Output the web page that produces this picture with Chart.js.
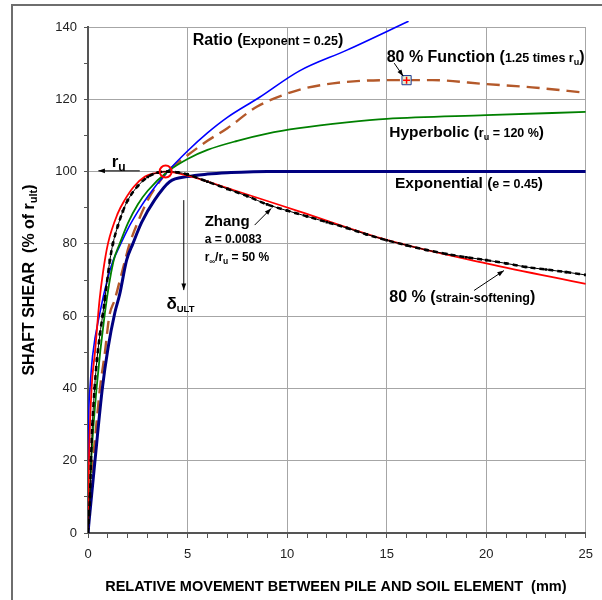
<!DOCTYPE html>
<html>
<head>
<meta charset="utf-8">
<script src="https://cdn.jsdelivr.net/npm/chart.js@4.4.1/dist/chart.umd.min.js"></script>
<style>
    html, body { margin: 0; padding: 0; background: #fff; }
    #wrap { position: relative; width: 602px; height: 600px; }
</style>
</head>
<body>
<div id="wrap"><canvas id="shearChart" width="602" height="600"></canvas></div>
<script>
// values (mm, % of r_ult)
const ratioX = [0, 0.02, 0.1, 0.23, 0.6, 1.0, 1.27, 1.5, 2.0, 2.5, 3.0, 4.0, 5.0, 6.0, 7.0, 8.6, 10.6, 13.0, 16.1];
const ratioY = [0, 26, 40, 49, 61, 70.7, 75.5, 78.3, 84.1, 88.9, 93.1, 100, 105.7, 110.7, 115, 120.5, 127.8, 133.6, 141.6];

const functionX = [0, 0.12, 0.25, 0.42, 0.6, 0.85, 1.07, 1.34, 1.7, 2.09, 2.5, 3.0, 3.5, 4.0, 5.0, 6.0, 7.0, 8.5, 10.6, 12.3, 15.0, 17.3, 20.0, 22.3, 25.0];
const functionY = [0, 10, 20, 30, 40, 50, 60, 64.5, 72, 80, 86, 92.1, 96.5, 100, 104.5, 108.5, 112, 118, 122.6, 124.4, 125.3, 125.3, 124.2, 123.3, 121.8];

const hyperX = [0, 0.16, 0.43, 0.85, 1.27, 1.59, 2.0, 2.5, 3.0, 4.0, 5.0, 6.0, 7.5, 9.0, 10.6, 13.0, 15.0, 20.0, 25.0];
const hyperY = [0, 20, 40, 61, 75, 80, 85.7, 90.9, 94.7, 100, 103.5, 106, 108.5, 110.5, 112, 113.6, 114.6, 115.6, 116.5];

const expoX = [0, 0.05, 0.35, 0.72, 1.0, 1.35, 1.59, 1.94, 2.25, 2.7, 3.34, 4.1, 5.0, 6.0, 7.0, 8.0, 9.0, 10.0, 25.0];
const expoY = [0, 3, 20, 40, 51, 61, 66, 75.5, 80, 86, 92.1, 97.2, 98.6, 99.3, 99.7, 99.9, 100, 100, 100];

const softX = [0, 0.05, 0.18, 0.35, 0.58, 0.75, 1.0, 1.5, 1.84, 2.3, 2.86, 3.4, 3.9, 5.0, 7.3, 10.6, 15.0, 20.0, 25.0];
const softY = [0, 20, 40, 50, 64.5, 72, 80, 88.5, 92.1, 95.8, 98.6, 99.6, 100, 98.9, 94.9, 89, 81.1, 74.6, 68.9];

const zhangX = [0, 0.05, 0.1, 0.15, 0.22, 0.33, 0.45, 0.6, 0.73, 0.84, 1.1, 1.25, 1.5, 1.75, 2.0, 2.5, 3.0, 3.5, 4.0, 4.5,
    5, 6, 7, 8, 9, 10, 11, 12, 13, 14, 15, 16, 17, 18, 19, 20, 21, 22, 23, 24, 25];
const zhangY = [0, 5, 10, 20, 30, 40, 48, 55, 60, 64.5, 75.5, 80, 85, 89, 92.1, 96, 98.5, 99.7, 100, 99.8,
    99.2, 97.2, 95.2, 93.2, 90.9, 89.2, 87.6, 86, 84.4, 82.6, 81, 79.6, 78.3, 77.2, 76.3, 75.5, 74.6, 73.6, 72.9, 72.2, 71.4];

const peakPoint = [3.9, 100];
const functionMark = [16, 125.3];

const xTicks = [0, 5, 10, 15, 20, 25];
const yTicks = [0, 20, 40, 60, 80, 100, 120, 140];

const FONT = '"Liberation Sans", Arial, sans-serif';

function pts(xs, ys) {
    return xs.map((x, i) => ({ x: x, y: ys[i] }));
}

function drawRuns(ctx, x, y, runs) {
    runs.forEach(r => {
        ctx.font = 'bold ' + r[1] + 'px ' + FONT;
        ctx.fillText(r[0], x, y + (r[2] || 0));
        x += ctx.measureText(r[0]).width;
    });
    return x;
}

function runsWidth(ctx, runs) {
    let w = 0;
    runs.forEach(r => {
        ctx.font = 'bold ' + r[1] + 'px ' + FONT;
        w += ctx.measureText(r[0]).width;
    });
    return w;
}

function arrow(ctx, x1, y1, x2, y2) {
    const a = Math.atan2(y2 - y1, x2 - x1);
    ctx.beginPath();
    ctx.moveTo(x1, y1);
    ctx.lineTo(x2, y2);
    ctx.stroke();
    ctx.beginPath();
    ctx.moveTo(x2, y2);
    ctx.lineTo(x2 - 7 * Math.cos(a - 0.35), y2 - 7 * Math.sin(a - 0.35));
    ctx.lineTo(x2 - 7 * Math.cos(a + 0.35), y2 - 7 * Math.sin(a + 0.35));
    ctx.closePath();
    ctx.fill();
}

// labels anchored in data units
const notes = [
    { x: 5.26, y: 135.0, runs: [['Ratio ', 16], ['(', 16], ['Exponent = 0.25', 12.5], [')', 16]] },
    { x: 15.0, y: 130.2, runs: [['80 % Function ', 16], ['(', 16], ['1.25 times r', 12.5], ['u', 9, 3], [')', 16]] },
    { x: 15.13, y: 109.5, runs: [['Hyperbolic ', 15.5], ['(', 15.5], ['r', 12.5], ['u', 9, 3], [' = 120 %', 12.5], [')', 15.5]] },
    { x: 15.42, y: 95.4, runs: [['Exponential ', 15.5], ['(', 15.5], ['e = 0.45', 12.5], [')', 15.5]] },
    { x: 15.13, y: 64.0, runs: [['80 % ', 16], ['(', 16], ['strain-softening', 12.5], [')', 16]] },
    { x: 5.86, y: 84.9, runs: [['Zhang', 15]] },
    { x: 5.86, y: 80.2, runs: [['a = 0.0083', 12]] },
    { x: 5.86, y: 75.3, runs: [['r', 12], ['\u221E', 8, 3], ['/r', 12], ['u', 8.5, 3], [' = 50 %', 12]] },
    { x: 3.94, y: 61.9, runs: [['\u03B4', 17], ['ULT', 9.5, 3]] },
    { x: 1.19, y: 101.4, runs: [['r', 17], ['u', 12, 4]] }
];

const arrows = [
    [15.38, 130.0, 15.83, 126.4],
    [19.39, 67.1, 20.89, 72.6],
    [8.37, 85.2, 9.2, 89.8],
    [4.81, 92.1, 4.81, 67.2],
    [2.6, 100.2, 0.52, 100.2]
];

const notesPlugin = {
    id: 'notes',
    beforeDraw(chart) {
        const ctx = chart.ctx;
        ctx.save();
        ctx.strokeStyle = '#6e6e6e';
        ctx.lineWidth = 2;
        ctx.beginPath();
        ctx.moveTo(12, 600);
        ctx.lineTo(12, 5);
        ctx.lineTo(602, 5);
        ctx.stroke();
        ctx.restore();
    },
    afterDraw(chart) {
        const ctx = chart.ctx;
        const sx = chart.scales.x, sy = chart.scales.y;
        ctx.save();
        ctx.fillStyle = '#000';
        ctx.strokeStyle = '#000';
        ctx.lineWidth = 1;
        ctx.textBaseline = 'alphabetic';
        ctx.textAlign = 'left';
        notes.forEach(n => drawRuns(ctx, sx.getPixelForValue(n.x), sy.getPixelForValue(n.y), n.runs));
        arrows.forEach(a => arrow(ctx, sx.getPixelForValue(a[0]), sy.getPixelForValue(a[1]),
            sx.getPixelForValue(a[2]), sy.getPixelForValue(a[3])));

        // axis titles
        const xTitle = [['RELATIVE MOVEMENT BETWEEN PILE AND SOIL ELEMENT  (mm)', 14.5]];
        const xw = runsWidth(ctx, xTitle);
        drawRuns(ctx, (sx.left + sx.right) / 2 - xw / 2 - 1, 591, xTitle);

        const yTitle = [['SHAFT SHEAR  (% of r', 16], ['ult', 11, 3], [')', 16]];
        const yw = runsWidth(ctx, yTitle);
        ctx.translate(34, 280);
        ctx.rotate(-Math.PI / 2);
        drawRuns(ctx, -yw / 2, 0, yTitle);
        ctx.restore();
    }
};

const line = (label, xs, ys, color, width, extra) => Object.assign({
    label: label,
    data: pts(xs, ys),
    showLine: true,
    borderColor: color,
    backgroundColor: color,
    borderWidth: width,
    pointRadius: 0,
    cubicInterpolationMode: 'monotone'
}, extra || {});

const ctx = document.getElementById('shearChart').getContext('2d');
new Chart(ctx, {
    type: 'scatter',
    data: {
        datasets: [
            {
                label: 'peak',
                data: [{ x: peakPoint[0], y: peakPoint[1] }],
                pointRadius: 6,
                pointBorderWidth: 2,
                pointBorderColor: '#ff0000',
                pointBackgroundColor: 'rgba(0,0,0,0)',
                order: 0
            },
            {
                label: 'function cross',
                data: [{ x: functionMark[0], y: functionMark[1] }],
                pointStyle: 'cross',
                pointRadius: 3.5,
                pointBorderWidth: 1.5,
                pointBorderColor: '#ff0000',
                order: 1
            },
            {
                label: 'function mark',
                data: [{ x: functionMark[0], y: functionMark[1] }],
                pointStyle: 'rect',
                pointRadius: 6.5,
                pointBorderWidth: 1,
                pointBorderColor: '#1f3a93',
                pointBackgroundColor: '#e4eecf',
                order: 2
            },
            line('Zhang markers', zhangX, zhangY, '#000', 2.5,
                { borderDash: [5, 4], pointStyle: 'rect', pointRadius: 1.9, pointBorderWidth: 0, order: 3 }),
            line('Zhang', zhangX, zhangY, '#000', 1, { order: 4 }),
            line('80 % strain-softening', softX, softY, '#ff0000', 1.8, { order: 5 }),
            line('Exponential', expoX, expoY, '#000080', 3, { order: 6 }),
            line('Hyperbolic', hyperX, hyperY, '#008000', 1.8, { order: 7 }),
            line('Ratio', ratioX, ratioY, '#0000ff', 1.6, { order: 8, clip: { left: 0, top: 6, right: 0, bottom: 0 } }),
            line('80 % Function', functionX, functionY, '#b4592a', 2.4, { borderDash: [13, 7], order: 9 })
        ]
    },
    options: {
        responsive: false,
        animation: false,
        devicePixelRatio: 1,
        layout: { padding: { left: 0, top: 27, right: 15, bottom: 0 } },
        plugins: {
            legend: { display: false },
            tooltip: { enabled: false }
        },
        scales: {
            x: {
                type: 'linear',
                min: 0,
                max: 25,
                afterFit: s => { s.height = 67; },
                ticks: {
                    stepSize: 1,
                    autoSkip: false,
                    maxRotation: 0,
                    padding: 9,
                    color: '#222',
                    font: { family: FONT, size: 13 },
                    callback: v => xTicks.includes(v) ? v : ''
                },
                grid: {
                    color: c => c.tick && xTicks.includes(c.tick.value) ? '#a6a6a6' : 'rgba(0,0,0,0)',
                    tickColor: '#555',
                    tickLength: 5,
                    lineWidth: 1
                },
                border: { color: '#555', width: 2 }
            },
            y: {
                type: 'linear',
                min: 0,
                max: 140,
                afterFit: s => { s.width = 88; },
                ticks: {
                    stepSize: 10,
                    autoSkip: false,
                    padding: 7,
                    color: '#222',
                    font: { family: FONT, size: 13 },
                    callback: v => yTicks.includes(v) ? v : ''
                },
                grid: {
                    color: c => c.tick && yTicks.includes(c.tick.value) ? '#a6a6a6' : 'rgba(0,0,0,0)',
                    tickColor: '#555',
                    tickLength: 4,
                    lineWidth: 1
                },
                border: { color: '#555', width: 2 }
            }
        }
    },
    plugins: [notesPlugin]
});
</script>
</body>
</html>
